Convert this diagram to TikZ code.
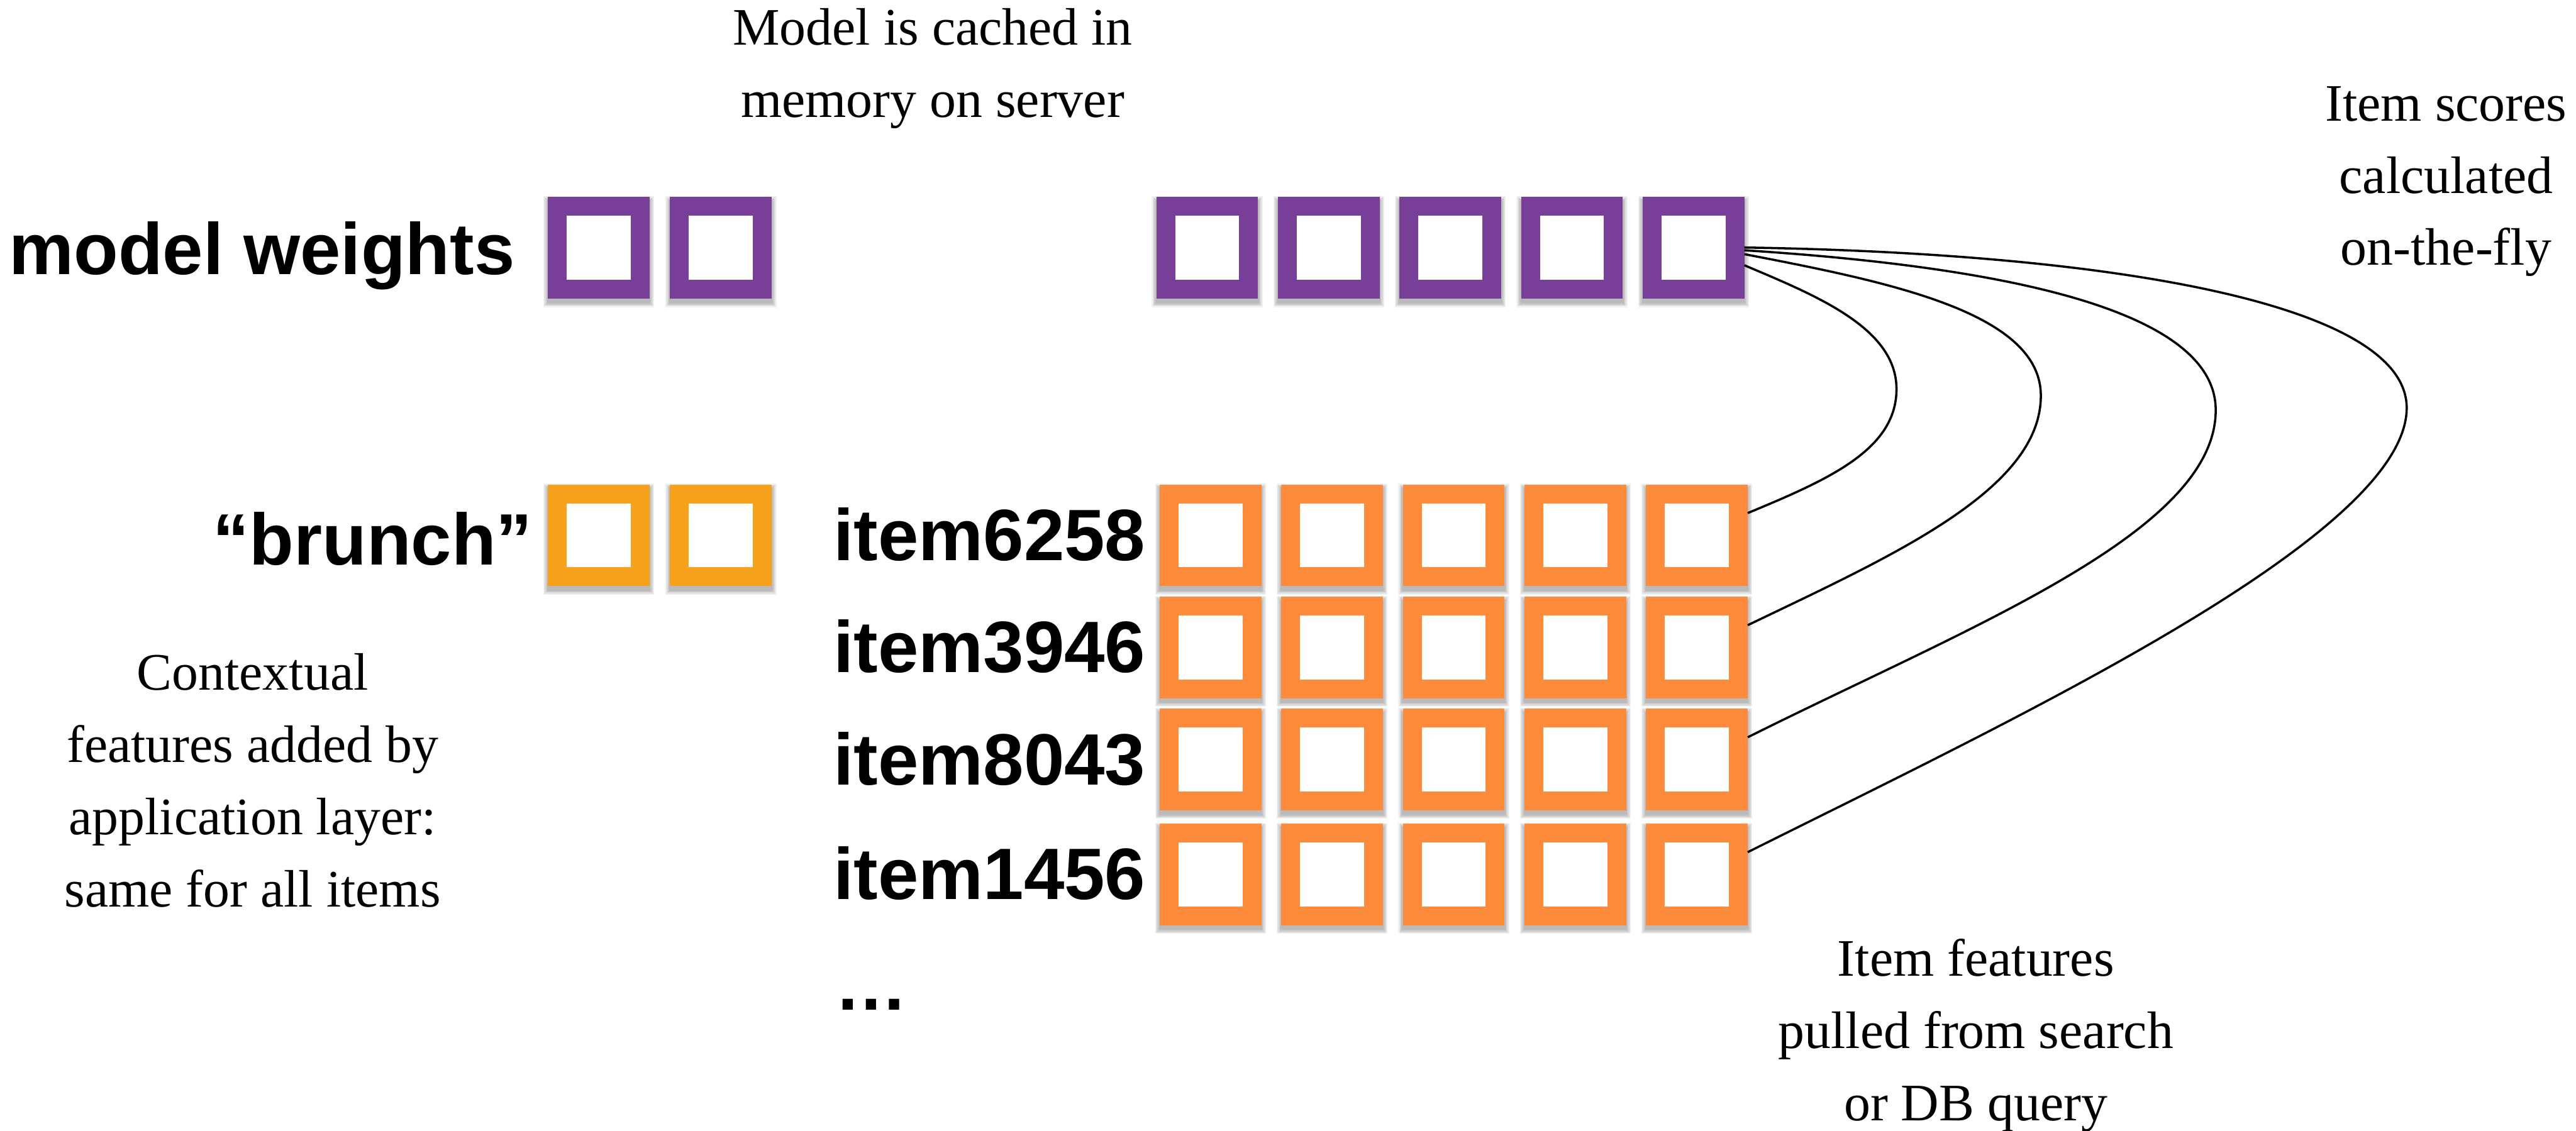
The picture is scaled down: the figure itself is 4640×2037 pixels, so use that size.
\documentclass[tikz,border=0pt]{standalone}
\usepackage{fontspec}
\setmainfont{Liberation Serif}
\newfontfamily\labelsans{Liberation Sans}

\pgfdeclarelayer{background}
\pgfsetlayers{background,main}

\definecolor{weightpurple}{HTML}{773F98}
\definecolor{itemorange}{HTML}{FD8B3C}
\definecolor{ctxorange}{HTML}{F7A21D}

\tikzset{
  featbox/.style={rectangle, draw=#1, fill=white, line width=0.34cm,
    minimum size=1.49cm, inner sep=0pt},
  bigword/.style={font=\labelsans\bfseries\fontsize{37.3}{44}\selectfont, inner sep=0pt},
  note/.style={font=\fontsize{27}{37}\selectfont, align=center, inner sep=0pt},
  scoreline/.style={line width=0.04cm, black},
}

% soft drop shadow under a feature box
\newcommand\boxshadow[1]{%
  \begin{pgfonlayer}{background}
    \foreach \layer in {1,...,6}{
      \fill[black, opacity=0.05]
        ([shift={(-1.4*\layer,7-1.4*\layer)}]#1.north west) rectangle
        ([shift={(1.4*\layer,7+1.4*\layer)}]#1.south east);
    }
  \end{pgfonlayer}}

\begin{document}
\begin{tikzpicture}[x=0.01cm, y=-0.01cm]
  \useasboundingbox (0,0) rectangle (4640,2037);

  % model weights
  \foreach \i/\x in {1/1078.5, 2/1298.5}{
    \node[featbox=weightpurple] (wl\i) at (\x,446.5) {};
    \boxshadow{wl\i}
  }
  \foreach \i/\x in {1/2174.5, 2/2393.5, 3/2612.5, 4/2831.5, 5/3050.5}{
    \node[featbox=weightpurple] (wr\i) at (\x,446.5) {};
    \boxshadow{wr\i}
  }

  % contextual features
  \foreach \i/\x in {1/1078.5, 2/1298.5}{
    \node[featbox=ctxorange] (cx\i) at (\x,964.5) {};
    \boxshadow{cx\i}
  }

  % item features
  \foreach \r/\y in {1/964.5, 2/1166.5, 3/1368.5, 4/1575.5}{
    \foreach \c/\x in {1/2180.5, 2/2399.5, 3/2618.5, 4/2837.5, 5/3056.5}{
      \node[featbox=itemorange] (r\r c\c) at (\x,\y) {};
      \boxshadow{r\r c\c}
    }
  }

  % labels
  \node[bigword, anchor=base east] (mwlabel) at (928,495) {model weights};
  \node[bigword, anchor=base east] (brlabel) at (960,1018) {“brunch”};
  \node[bigword, anchor=base east] (lab1) at (2064,1010) {item6258};
  \node[bigword, anchor=base east] (lab2) at (2064,1212) {item3946};
  \node[bigword, anchor=base east] (lab3) at (2064,1414) {item8043};
  \node[bigword, anchor=base east] (lab4) at (2064,1621) {item1456};
  \node[bigword, anchor=base west] (more) at (1503,1820) {…};

  % notes (placed by the baseline of their last line)
  \node[note, anchor=base] (cachenote) at (1680,211) {Model is cached in\\memory on server};
  \node[note, anchor=base] (scorenote) at (4406,478) {Item scores\\calculated\\on-the-fly};
  \node[note, anchor=base] (ctxnote) at (455,1634) {Contextual\\features added by\\application layer:\\same for all items};
  \node[note, anchor=base] (featnote) at (3559,2019) {Item features\\pulled from search\\or DB query};

  % score connectors
  \draw[scoreline] ([shift={(0,31.5)}]wr5.east)
    .. controls +(130,55) and +(0,-110) .. (3416,701)
    .. controls +(0,110) and +(144,-60) .. ([shift={(0,-40)}]r1c5.east);
  \draw[scoreline] ([shift={(0,11.5)}]wr5.east)
    .. controls +(260,50) and +(0,-150) .. (3676,713)
    .. controls +(0,170) and +(260,-125) .. ([shift={(0,-40)}]r2c5.east);
  \draw[scoreline] ([shift={(0,4.5)}]wr5.east)
    .. controls +(470,30) and +(0,-180) .. (3991,739)
    .. controls +(0,220) and +(400,-200) .. ([shift={(0,-40)}]r3c5.east);
  \draw[scoreline] ([shift={(0,-0.5)}]wr5.east)
    .. controls +(650,10) and +(0,-190) .. (4335,735)
    .. controls +(0,230) and +(480,-240) .. ([shift={(0,-40)}]r4c5.east);
\end{tikzpicture}
\end{document}
